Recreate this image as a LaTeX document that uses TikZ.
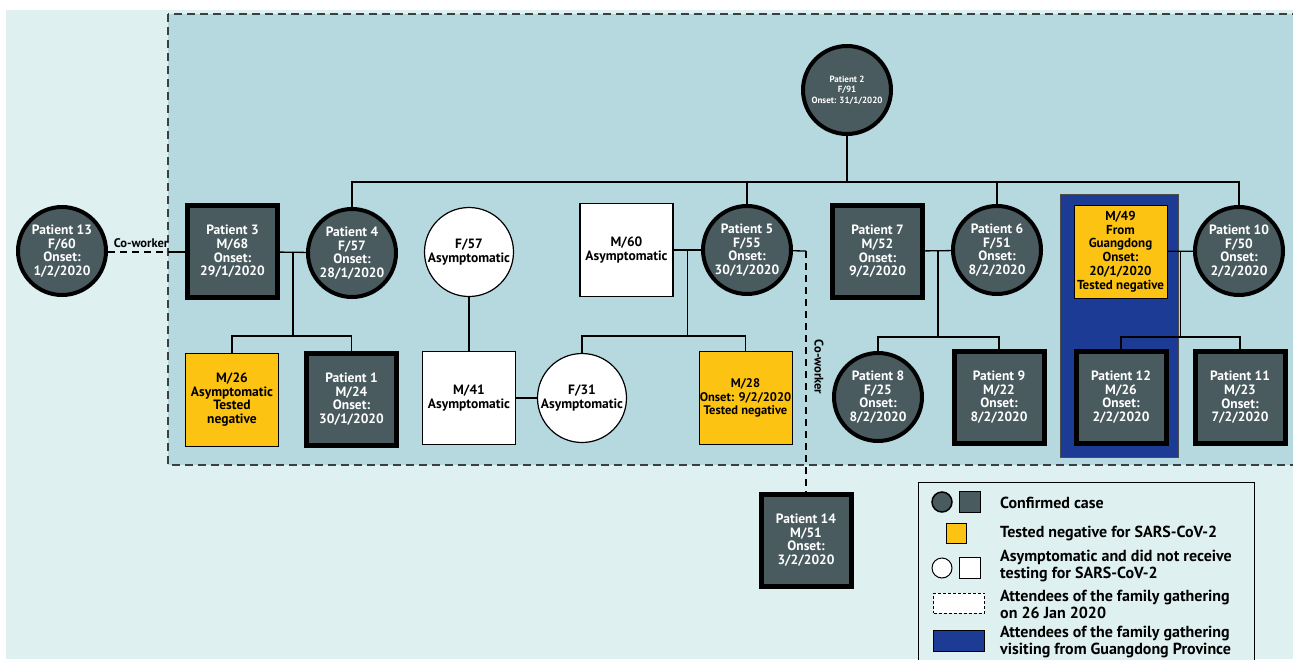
\documentclass[tikz,border=0pt]{standalone}
\usepackage{fontspec}
\setmainfont{PT Sans}
\usetikzlibrary{calc}
\definecolor{dk}{HTML}{4A5B5F}
\definecolor{boxin}{HTML}{B5D9DE}
\definecolor{outerbg}{HTML}{DFF0F0}
\definecolor{yel}{HTML}{FCC313}
\definecolor{gdblue}{HTML}{1C3B94}
\definecolor{dashc}{HTML}{3A3F42}
\pgfdeclarelayer{back}
\pgfdeclarelayer{lines}
\pgfsetlayers{back,lines,main}
\tikzset{
  nodetext/.style={align=center,inner sep=0pt,font=\bfseries\fontsize{13.5}{13.7}\selectfont},
  confc/.style={nodetext,circle,fill=dk,draw=black,line width=4pt,minimum size=88pt,text=white},
  confsq/.style={nodetext,rectangle,fill=dk,draw=black,line width=5pt,minimum width=90pt,minimum height=92pt,text=white},
  whitec/.style={nodetext,circle,fill=white,draw=black,line width=1.2pt,minimum size=89pt,text=black},
  whitesq/.style={nodetext,rectangle,fill=white,draw=black,line width=1.2pt,minimum width=93pt,minimum height=93pt,text=black},
  yelsq/.style={nodetext,rectangle,fill=yel,draw=black,line width=0.8pt,minimum width=93pt,minimum height=93pt,text=black},
  link/.style={draw=black,line width=1.3pt},
  cowork/.style={draw=black,line width=1.3pt,dash pattern=on 7pt off 5pt},
  cwlabel/.style={inner sep=0pt,font=\bfseries\fontsize{12.5}{13}\selectfont},
  lgtext/.style={anchor=west,align=left,inner sep=0pt,font=\bfseries\fontsize{16}{17}\selectfont}
}
\begin{document}
\begin{tikzpicture}[x=1pt,y=-1pt]
\useasboundingbox (0,0) rectangle (1293,659);
\begin{pgfonlayer}{back}
\fill[white] (0,0) rectangle (1293,659);
\fill[outerbg] (6,10) rectangle (1293,659);
% gathering box
\filldraw[fill=boxin,draw=dashc,line width=2pt,dash pattern=on 8pt off 5pt] (168,14) rectangle (1310,465);
% Guangdong visitors
\filldraw[fill=gdblue,draw=black!70,line width=0.8pt] (1060,194) rectangle (1178,457);
\end{pgfonlayer}

% first generation
\node[confc,minimum size=88pt,font=\bfseries\fontsize{9}{10.5}\selectfont] (p2) at (847,90) {Patient 2\\F/91\\Onset: 31/1/2020};
% second generation
\node[confc] (p13) at (62,251) {Patient 13\\F/60\\Onset:\\1/2/2020};
\node[confsq] (p3) at (232.5,251.5) {Patient 3\\M/68\\Onset:\\29/1/2020};
\node[confc] (p4) at (352,253) {Patient 4\\F/57\\Onset:\\28/1/2020};
\node[whitec] (f57) at (469,252) {F/57\\Asymptomatic};
\node[whitesq] (m60) at (626.5,250) {M/60\\Asymptomatic};
\node[confc] (p5) at (747,250) {Patient 5\\F/55\\Onset:\\30/1/2020};
\node[confsq] (p7) at (877.5,251.5) {Patient 7\\M/52\\Onset:\\9/2/2020};
\node[confc] (p6) at (997,250) {Patient 6\\F/51\\Onset:\\8/2/2020};
\node[yelsq,font=\bfseries\fontsize{13}{13.7}\selectfont] (m49) at (1120.5,251.5) {M/49\\From\\Guangdong\\Onset:\\20/1/2020\\Tested negative};
\node[confc] (p10) at (1239,251) {Patient 10\\F/50\\Onset:\\2/2/2020};
% third generation
\node[yelsq] (m26) at (232,399.5) {M/26\\Asymptomatic\\Tested\\negative};
\node[confsq] (p1) at (351.5,399) {Patient 1\\M/24\\Onset:\\30/1/2020};
\node[whitesq] (m41) at (469,398) {M/41\\Asymptomatic};
\node[whitec] (f31) at (582,398) {F/31\\Asymptomatic};
\node[yelsq,font=\bfseries\fontsize{12.5}{13.7}\selectfont] (m28) at (745.5,398) {M/28\\Onset: 9/2/2020\\Tested negative};
\node[confc] (p8) at (878,397) {Patient 8\\F/25\\Onset:\\8/2/2020};
\node[confsq] (p9) at (999,397) {Patient 9\\M/22\\Onset:\\8/2/2020};
\node[confsq] (p12) at (1121,397) {Patient 12\\M/26\\Onset:\\2/2/2020};
\node[confsq] (p11) at (1240,397.5) {Patient 11\\M/23\\Onset:\\7/2/2020};
\node[confsq] (p14) at (806,540) {Patient 14\\M/51\\Onset:\\3/2/2020};

% connectors
\begin{pgfonlayer}{lines}
\coordinate (bus) at (847,182);
\draw[link] (p2) -- (bus);
\draw[link] (p4.north) |- (bus) -| (p10.north);
\draw[link] (p5.north) -- (p5.north |- bus);
\draw[link] (p6.north) -- (p6.north |- bus);
% Patient 3 & 4
\draw[link] (p3) -- (p4);
\coordinate (m34) at ($(p3.east)!0.5!(p4.west)$);
\draw[link] (m34) -- (m34 |- 0,336) coordinate (j34);
\draw[link] (m26.north) |- (j34) -| (p1.north);
% F/57 - M/41 - F/31
\draw[link] (f57) -- (m41);
\draw[link] (m41) -- (f31);
% M/60 & Patient 5
\draw[link] (m60) -- (p5);
\coordinate (m5) at ($(m60.east)!0.5!(p5.west)$);
\draw[link] (m5) -- (m5 |- 0,336) coordinate (j5);
\draw[link] (f31.north) |- (j5) -| (m28.north);
% Patient 7 & 6
\draw[link] (p7) -- (p6);
\coordinate (m76) at ($(p7.east)!0.5!(p6.west)$);
\draw[link] (m76) -- (m76 |- 0,337) coordinate (j76);
\draw[link] (p8.north) |- (j76) -| (p9.north);
% M/49 & Patient 10
\draw[link] (m49) -- (p10);
\coordinate (m410) at ($(m49.east)!0.5!(p10.west)$);
\draw[link] (m410) -- (m410 |- 0,337) coordinate (j410);
\draw[link] (p12.north) |- (j410) -| (p11.north);
% co-workers
\coordinate (edge13) at (170,252);
\draw[cowork] (p13.east |- edge13) -- (edge13);
\draw[link] (edge13) -- (p3.west |- edge13);
\coordinate (cw5) at (806,251);
\draw[link] (p5) -- (cw5);
\draw[cowork] (cw5) -- (p14.north);
\end{pgfonlayer}
\node[cwlabel,anchor=south] (lcw1) at (141,248) {Co-worker};
\node[cwlabel,rotate=-90] (lcw2) at (819,367) {Co-worker};

% legend
\draw[black,line width=1pt,fill=outerbg] (918,482) rectangle (1254,668);
\node[circle,fill=dk,draw=black,line width=1.5pt,minimum size=20pt,inner sep=0pt] (lc1) at (942,502) {};
\node[rectangle,fill=dk,draw=black,line width=1pt,minimum size=21pt,inner sep=0pt] (ls1) at (970,502) {};
\node[rectangle,fill=yel,draw=black,line width=1pt,minimum size=20pt,inner sep=0pt] (ls2) at (956.5,533.5) {};
\node[circle,fill=white,draw=black,line width=1pt,minimum size=20pt,inner sep=0pt] (lc3) at (942,568) {};
\node[rectangle,fill=white,draw=black,line width=1pt,minimum size=21pt,inner sep=0pt] (ls3) at (970,568) {};
\node[rectangle,fill=white,draw=black,line width=1pt,dash pattern=on 3pt off 2pt,minimum width=51pt,minimum height=20pt,inner sep=0pt] (ls4) at (959,603) {};
\node[rectangle,fill=gdblue,draw=black,line width=0.8pt,minimum width=51pt,minimum height=21pt,inner sep=0pt] (ls5) at (959,641) {};
\node[lgtext] (lt1) at (1000,503) {Confirmed case};
\node[lgtext] (lt2) at (1000,533) {Tested negative for SARS-CoV-2};
\node[lgtext] (lt3) at (1000,566) {Asymptomatic and did not receive\\testing for SARS-CoV-2};
\node[lgtext] (lt4) at (1000,604) {Attendees of the family gathering\\on 26 Jan 2020};
\node[lgtext] (lt5) at (1000,642) {Attendees of the family gathering\\visiting from Guangdong Province};
\end{tikzpicture}
\end{document}
